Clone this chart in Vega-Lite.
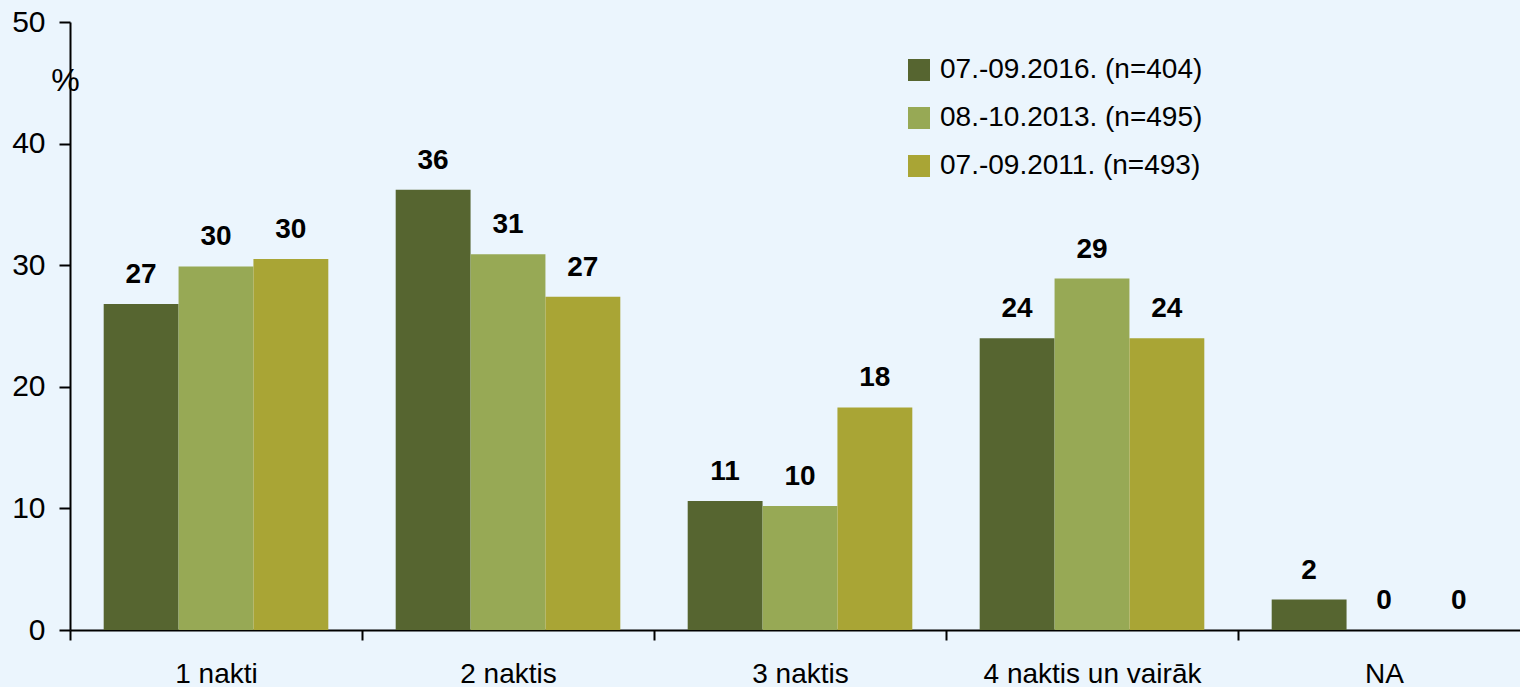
{
  "$schema": "https://vega.github.io/schema/vega-lite/v6.json",
  "width": 1460,
  "height": 608,
  "autosize": {"type": "none"},
  "padding": {"left": 70, "top": 22, "right": 0, "bottom": 57},
  "background": "#ebf5fd",
  "config": {"view": {"stroke": null}, "font": "Liberation Sans"},
  "data": {
    "values": [
      {"cat": "1 nakti", "period": "07.-09.2016. (n=404)", "value": 26.8, "label": "27"},
      {"cat": "1 nakti", "period": "08.-10.2013. (n=495)", "value": 29.9, "label": "30"},
      {"cat": "1 nakti", "period": "07.-09.2011. (n=493)", "value": 30.5, "label": "30"},
      {"cat": "2 naktis", "period": "07.-09.2016. (n=404)", "value": 36.2, "label": "36"},
      {"cat": "2 naktis", "period": "08.-10.2013. (n=495)", "value": 30.9, "label": "31"},
      {"cat": "2 naktis", "period": "07.-09.2011. (n=493)", "value": 27.4, "label": "27"},
      {"cat": "3 naktis", "period": "07.-09.2016. (n=404)", "value": 10.6, "label": "11"},
      {"cat": "3 naktis", "period": "08.-10.2013. (n=495)", "value": 10.2, "label": "10"},
      {"cat": "3 naktis", "period": "07.-09.2011. (n=493)", "value": 18.3, "label": "18"},
      {"cat": "4 naktis un vairāk", "period": "07.-09.2016. (n=404)", "value": 24.0, "label": "24"},
      {"cat": "4 naktis un vairāk", "period": "08.-10.2013. (n=495)", "value": 28.9, "label": "29"},
      {"cat": "4 naktis un vairāk", "period": "07.-09.2011. (n=493)", "value": 24.0, "label": "24"},
      {"cat": "NA", "period": "07.-09.2016. (n=404)", "value": 2.5, "label": "2"},
      {"cat": "NA", "period": "08.-10.2013. (n=495)", "value": 0, "label": "0"},
      {"cat": "NA", "period": "07.-09.2011. (n=493)", "value": 0, "label": "0"}
    ]
  },
  "encoding": {
    "x": {
      "field": "cat",
      "type": "nominal",
      "sort": ["1 nakti", "2 naktis", "3 naktis", "4 naktis un vairāk", "NA"],
      "scale": {"paddingInner": 0, "paddingOuter": 0},
      "axis": {
        "title": null,
        "labelAngle": 0,
        "labelFontSize": 28,
        "labelLimit": 0,
        "labelColor": "#000000",
        "labelPadding": 20,
        "domainColor": "#000000",
        "domainWidth": 2,
        "tickColor": "#000000",
        "tickWidth": 2,
        "tickSize": 10,
        "tickBand": "extent",
        "grid": false
      }
    },
    "xOffset": {
      "field": "period",
      "type": "nominal",
      "sort": ["07.-09.2016. (n=404)", "08.-10.2013. (n=495)", "07.-09.2011. (n=493)"],
      "scale": {"paddingInner": 0, "paddingOuter": 0.45}
    },
    "y": {
      "field": "value",
      "type": "quantitative",
      "scale": {"domain": [0, 50]},
      "axis": {
        "values": [0, 10, 20, 30, 40, 50],
        "grid": false,
        "labelFontSize": 30,
        "labelColor": "#000000",
        "labelPadding": 14,
        "domainColor": "#000000",
        "domainWidth": 2,
        "tickColor": "#000000",
        "tickWidth": 2,
        "tickSize": 11,
        "title": "%",
        "titleAngle": 0,
        "titleFontSize": 32,
        "titleFontWeight": "normal",
        "titleColor": "#000000",
        "titleX": -5,
        "titleY": 58,
        "titleAlign": "center",
        "titleBaseline": "middle"
      }
    }
  },
  "layer": [
    {
      "mark": {"type": "bar"},
      "encoding": {
        "color": {
          "field": "period",
          "type": "nominal",
          "sort": ["07.-09.2016. (n=404)", "08.-10.2013. (n=495)", "07.-09.2011. (n=493)"],
          "scale": {
            "domain": ["07.-09.2016. (n=404)", "08.-10.2013. (n=495)", "07.-09.2011. (n=493)"],
            "range": ["#566530", "#97a955", "#a9a535"]
          },
          "legend": {
            "title": null,
            "orient": "none",
            "legendX": 835,
            "legendY": 34,
            "symbolType": "square",
            "symbolSize": 484,
            "symbolStrokeWidth": 0,
            "labelFontSize": 28,
            "labelColor": "#000000",
            "labelOffset": 7,
            "rowPadding": 20,
            "labelLimit": 0
          }
        }
      }
    },
    {
      "mark": {"type": "text", "baseline": "alphabetic", "dy": -21, "fontWeight": "bold", "fontSize": 28, "color": "#000000"},
      "encoding": {"text": {"field": "label"}}
    }
  ]
}
